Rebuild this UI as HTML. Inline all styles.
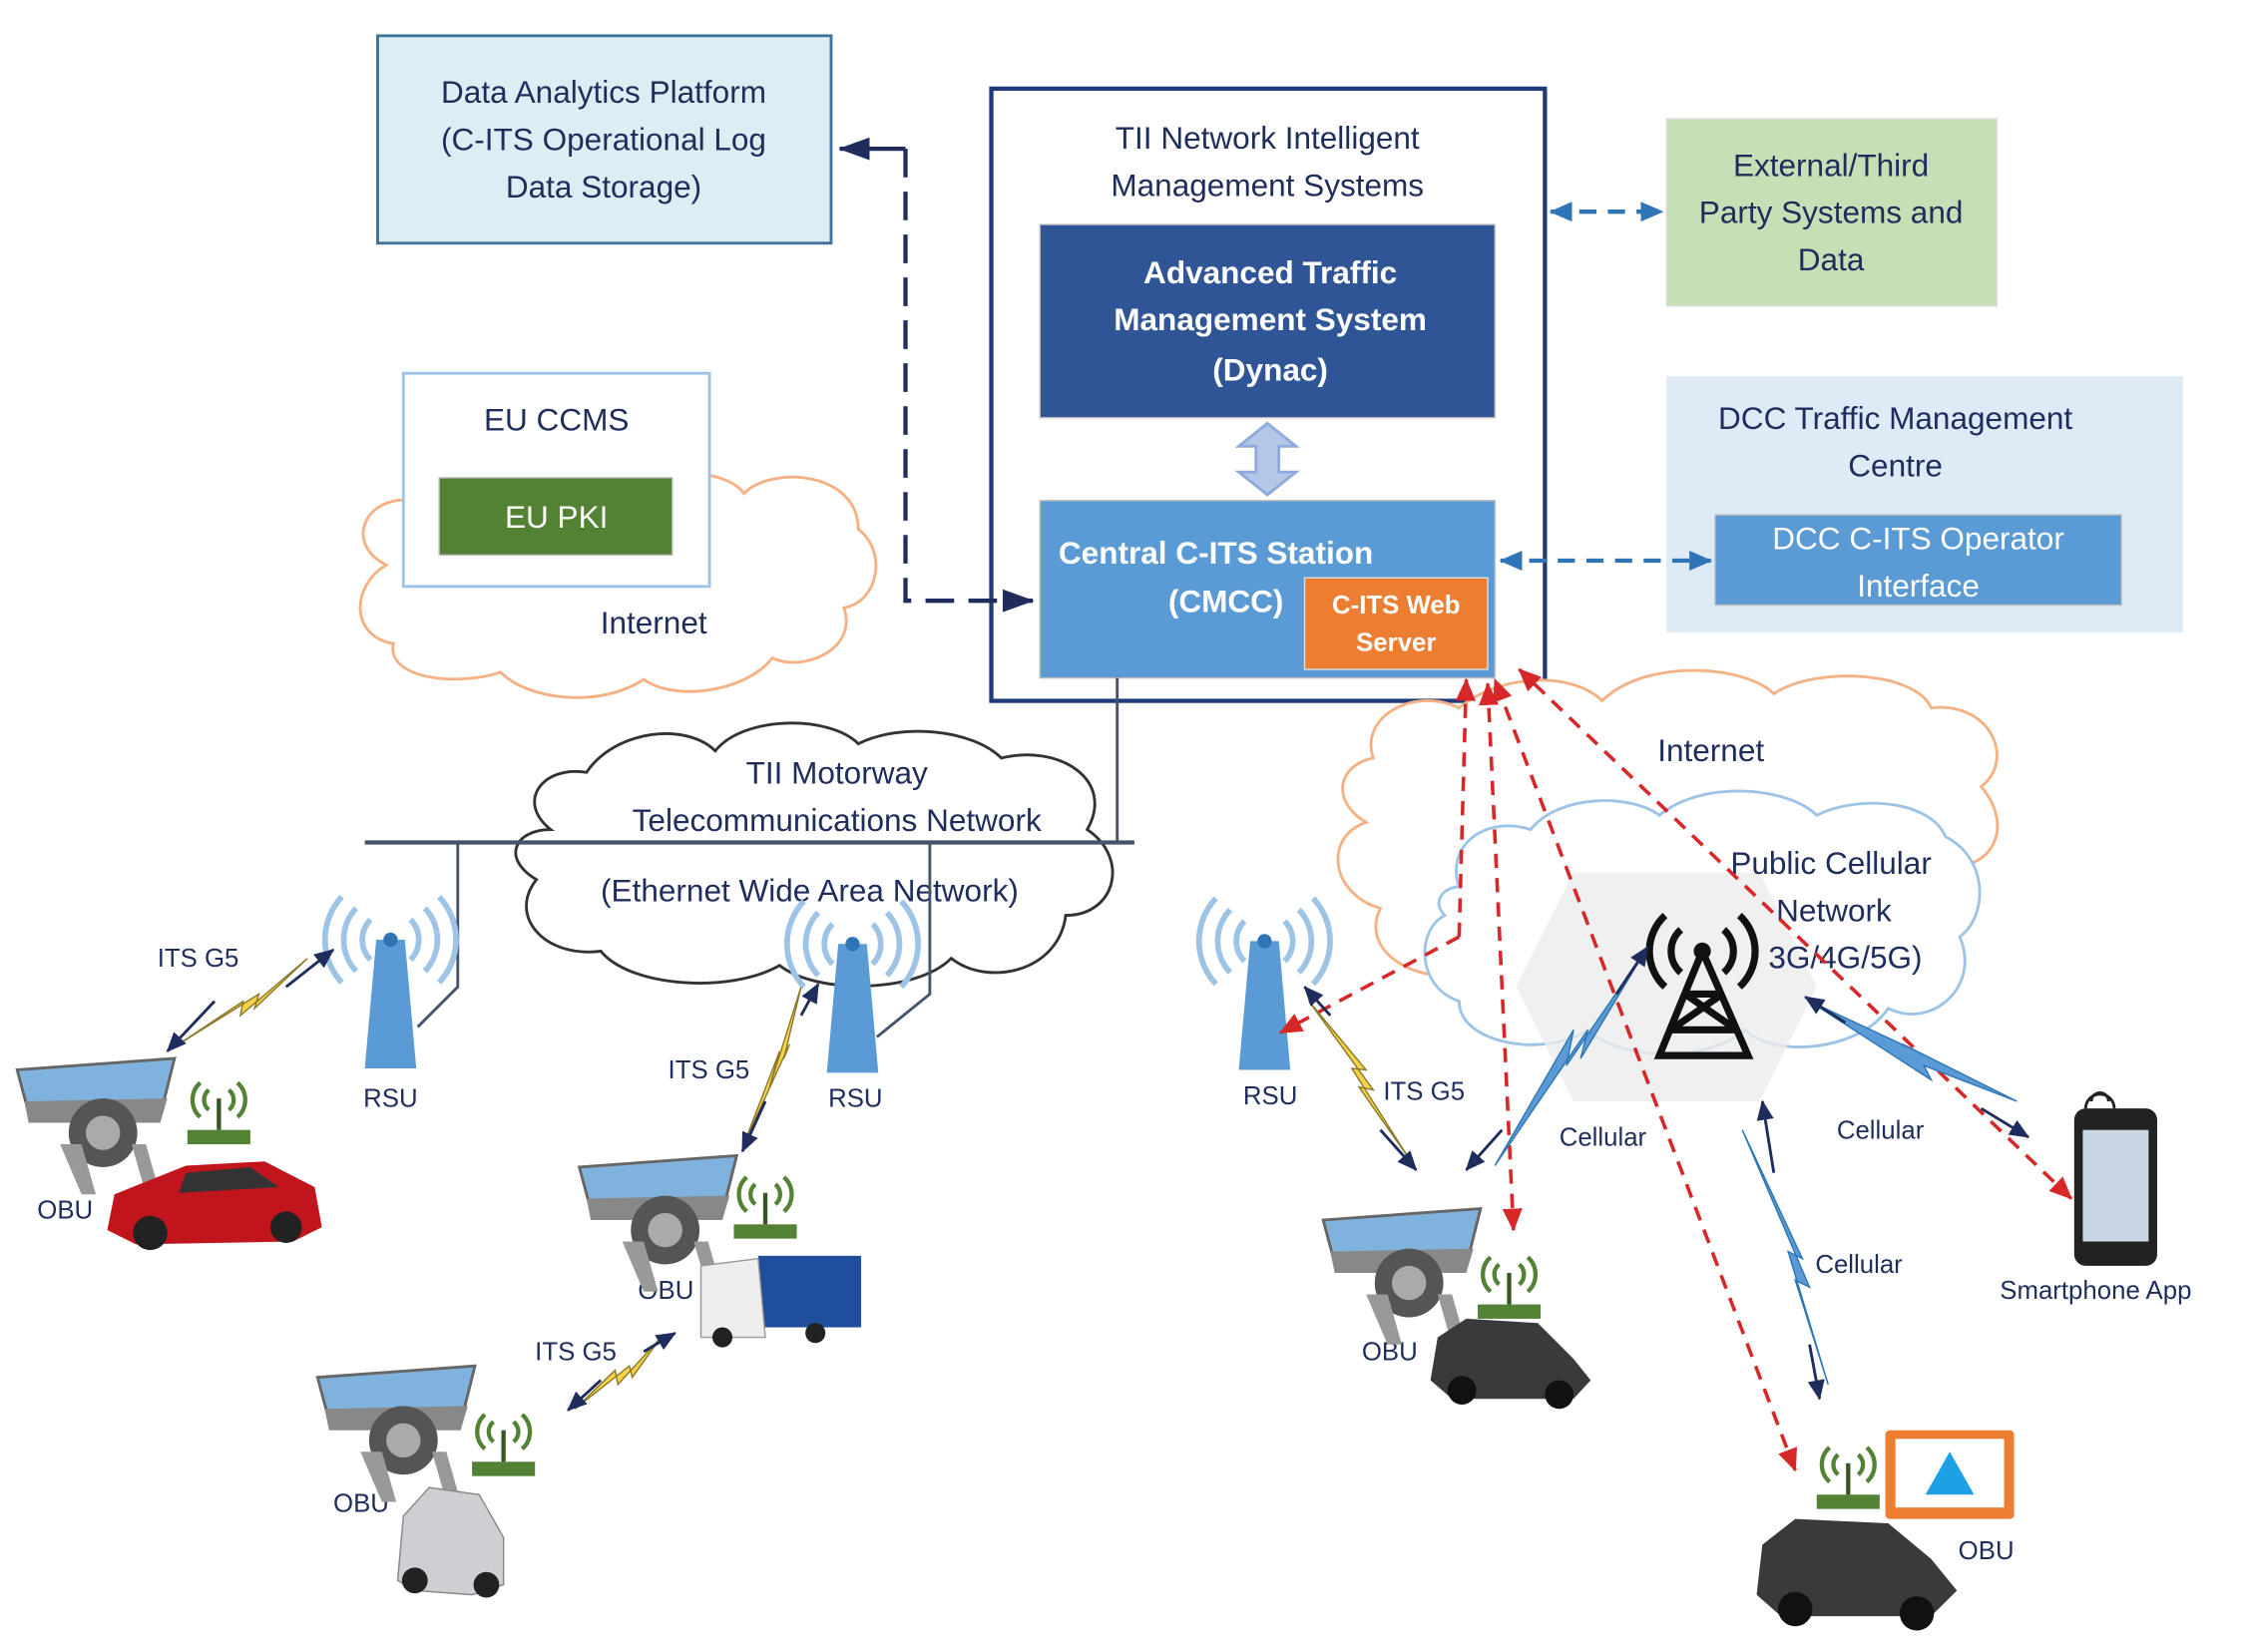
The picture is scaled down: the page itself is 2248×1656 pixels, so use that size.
<!DOCTYPE html>
<html><head><meta charset="utf-8"><style>
html,body{margin:0;padding:0;background:#fff;}
svg{display:block;}
text{font-family:"Liberation Sans",sans-serif;}
</style></head><body>
<svg width="2248" height="1656" viewBox="0 0 1568 1155" preserveAspectRatio="none" xmlns="http://www.w3.org/2000/svg">
<defs>
<marker id="ab" markerWidth="16" markerHeight="14" refX="15" refY="7" orient="auto-start-reverse" markerUnits="userSpaceOnUse"><path d="M0,0 L16,7 L0,14z" fill="#2e75b6"/></marker>
<marker id="ad" markerWidth="22" markerHeight="16" refX="21" refY="8" orient="auto" markerUnits="userSpaceOnUse"><path d="M0,0 L22,8 L0,16z" fill="#1f2d5c"/></marker>
<marker id="ar" markerWidth="16" markerHeight="14" refX="15" refY="7" orient="auto-start-reverse" markerUnits="userSpaceOnUse"><path d="M0,0 L16,7 L0,14z" fill="#d62828"/></marker>
<marker id="ak" markerWidth="14" markerHeight="12" refX="13" refY="6" orient="auto" markerUnits="userSpaceOnUse"><path d="M0,0 L14,6 L0,12z" fill="#1f2d5c"/></marker>
<g id="rsu">
<path d="M-10,0 L10,0 L18,90 L-18,90z" fill="#5b9bd5"/>
<circle cx="0" cy="0" r="5" fill="#2e75b6"/>
<path d="M-14,-14 A20,20 0 0 0 -14,14 M14,-14 A20,20 0 0 1 14,14 M-24,-22 A32,32 0 0 0 -24,22 M24,-22 A32,32 0 0 1 24,22 M-34,-30 A44,44 0 0 0 -34,30 M34,-30 A44,44 0 0 1 34,30" fill="none" stroke="#9dc3e6" stroke-width="4"/>
</g>
<g id="dash">
<path d="M0,8 L110,0 L100,40 L8,38z" fill="#7fb3de" stroke="#666" stroke-width="2"/>
<path d="M5,30 L105,28 L100,45 L8,45z" fill="#888"/>
<circle cx="60" cy="52" r="24" fill="#555"/><circle cx="60" cy="52" r="12" fill="#aaa"/>
<path d="M30,60 L45,95 L55,95 L45,60z M80,60 L90,95 L100,95 L90,60z" fill="#999"/>
</g>
<g id="wifi">
<rect x="-22" y="22" width="44" height="10" fill="#548235"/>
<line x1="0" y1="0" x2="0" y2="22" stroke="#375623" stroke-width="3"/>
<path d="M-7,-6 A9,9 0 0 0 -7,8 M7,-6 A9,9 0 0 1 7,8 M-13,-11 A16,16 0 0 0 -13,13 M13,-11 A16,16 0 0 1 13,13" fill="none" stroke="#548235" stroke-width="3"/>
</g>
</defs>

<!-- EU CCMS cloud -->
<path d="M270,395 C240,380 255,345 290,350 C300,320 340,320 360,340 C380,320 420,320 440,340 C470,325 510,330 520,345 C540,325 600,330 600,370 C620,385 615,420 590,425 C600,455 560,470 540,460 C520,485 470,490 450,475 C420,495 370,490 350,470 C320,480 270,475 275,450 C245,445 245,410 270,395z" fill="#fff" stroke="#f4b183" stroke-width="2"/>
<rect x="282" y="261" width="214" height="149" fill="#fff" stroke="#9dc3e6" stroke-width="2"/>
<text x="389" y="301" font-size="22" text-anchor="middle" fill="#1f2d5c">EU CCMS</text>
<rect x="307" y="334" width="163" height="54" fill="#548235" stroke="#bbb"/>
<text x="389" y="369" font-size="22" text-anchor="middle" fill="#fff">EU PKI</text>
<text x="457" y="443" font-size="22" text-anchor="middle" fill="#1f2d5c">Internet</text>

<!-- Data analytics -->
<rect x="264" y="25" width="317" height="145" fill="#dbeef4" stroke="#41719c" stroke-width="2"/>
<text x="422" y="72" font-size="22" text-anchor="middle" fill="#1f2d5c">Data Analytics Platform</text>
<text x="422" y="105" font-size="22" text-anchor="middle" fill="#1f2d5c">(C-ITS Operational Log</text>
<text x="422" y="138" font-size="22" text-anchor="middle" fill="#1f2d5c">Data Storage)</text>

<!-- TII box -->
<rect x="693" y="62" width="387" height="428" fill="#fff" stroke="#1f3a7a" stroke-width="3"/>
<text x="886" y="104" font-size="22" text-anchor="middle" fill="#1f2d5c">TII Network Intelligent</text>
<text x="886" y="137" font-size="22" text-anchor="middle" fill="#1f2d5c">Management Systems</text>
<rect x="727" y="157" width="318" height="135" fill="#2f5597" stroke="#bbb"/>
<text x="888" y="198" font-size="22" font-weight="bold" text-anchor="middle" fill="#fff">Advanced Traffic</text>
<text x="888" y="231" font-size="22" font-weight="bold" text-anchor="middle" fill="#fff">Management System</text>
<text x="888" y="266" font-size="22" font-weight="bold" text-anchor="middle" fill="#fff">(Dynac)</text>
<path d="M886,296 L906,312 L894,312 L894,330 L906,330 L886,346 L866,330 L878,330 L878,312 L866,312z" fill="#b4c7e7" stroke="#8faadc" stroke-width="2"/>
<rect x="727" y="350" width="318" height="124" fill="#5b9bd5" stroke="#bbb"/>
<text x="740" y="394" font-size="22" font-weight="bold" fill="#fff">Central C-ITS Station</text>
<text x="857" y="428" font-size="22" font-weight="bold" text-anchor="middle" fill="#fff">(CMCC)</text>
<rect x="912" y="404" width="128" height="64" fill="#ed7d31" stroke="#ddd"/>
<text x="976" y="429" font-size="18" font-weight="bold" text-anchor="middle" fill="#fff">C-ITS Web</text>
<text x="976" y="455" font-size="18" font-weight="bold" text-anchor="middle" fill="#fff">Server</text>

<!-- navy dashed -->
<path d="M633,104 L633,420 L722,420" fill="none" stroke="#1f2d5c" stroke-width="3" stroke-dasharray="20,10" marker-end="url(#ad)"/>
<path d="M633,104 L587,104" fill="none" stroke="#1f2d5c" stroke-width="3" marker-end="url(#ad)"/>

<!-- External -->
<rect x="1165" y="83" width="231" height="131" fill="#c5e0b4" stroke="#ddd"/>
<text x="1280" y="123" font-size="22" text-anchor="middle" fill="#1f2d5c">External/Third</text>
<text x="1280" y="156" font-size="22" text-anchor="middle" fill="#1f2d5c">Party Systems and</text>
<text x="1280" y="189" font-size="22" text-anchor="middle" fill="#1f2d5c">Data</text>
<line x1="1084" y1="148" x2="1162" y2="148" stroke="#2e75b6" stroke-width="3" stroke-dasharray="12,8" marker-start="url(#ab)" marker-end="url(#ab)"/>

<!-- DCC -->
<rect x="1165" y="263" width="361" height="179" fill="#deebf7"/>
<text x="1325" y="300" font-size="22" text-anchor="middle" fill="#1f2d5c">DCC Traffic Management</text>
<text x="1325" y="333" font-size="22" text-anchor="middle" fill="#1f2d5c">Centre</text>
<rect x="1199" y="360" width="284" height="63" fill="#5b9bd5" stroke="#bbb"/>
<text x="1341" y="384" font-size="22" text-anchor="middle" fill="#fff">DCC C-ITS Operator</text>
<text x="1341" y="417" font-size="22" text-anchor="middle" fill="#fff">Interface</text>
<line x1="1049" y1="392" x2="1196" y2="392" stroke="#2e75b6" stroke-width="3" stroke-dasharray="12,8" marker-start="url(#ab)" marker-end="url(#ab)"/>

<!-- bus line -->
<line x1="781" y1="474" x2="781" y2="589" stroke="#44546a" stroke-width="2"/>
<!-- TII cloud -->
<path d="M385,580 C360,560 380,535 410,540 C430,510 480,505 500,525 C520,500 580,500 600,520 C630,505 680,510 700,530 C740,520 780,545 760,580 C790,600 780,640 745,640 C740,680 690,690 665,670 C640,695 570,695 545,675 C510,695 440,690 420,665 C380,670 355,640 375,615 C350,600 360,580 385,580z" fill="#fff" stroke="#333" stroke-width="2"/>
<line x1="255" y1="589" x2="793" y2="589" stroke="#44546a" stroke-width="3"/>
<text x="585" y="548" font-size="22" text-anchor="middle" fill="#1f2d5c">TII Motorway</text>
<text x="585" y="581" font-size="22" text-anchor="middle" fill="#1f2d5c">Telecommunications Network</text>
<text x="566" y="630" font-size="22" text-anchor="middle" fill="#1f2d5c">(Ethernet Wide Area Network)</text>
<path d="M320,589 L320,690 L292,718" fill="none" stroke="#44546a" stroke-width="2"/>
<path d="M650,589 L650,695 L613,725" fill="none" stroke="#44546a" stroke-width="2"/>

<!-- right internet cloud -->
<path d="M960,530 C950,500 990,480 1020,495 C1050,470 1100,470 1120,490 C1150,460 1220,465 1240,485 C1270,465 1340,470 1350,495 C1390,490 1410,530 1385,550 C1410,580 1390,610 1360,605 C1370,660 1320,690 1280,680 C1250,705 1180,705 1150,690 C1110,705 1050,700 1030,680 C990,690 950,665 965,635 C930,625 925,585 955,575 C930,560 935,535 960,530z" fill="#fff" stroke="#f4b183" stroke-width="2"/>
<text x="1196" y="532" font-size="22" text-anchor="middle" fill="#1f2d5c">Internet</text>
<path d="M1020,620 C1010,590 1040,570 1070,580 C1090,555 1140,555 1160,570 C1190,545 1250,550 1270,570 C1300,555 1350,560 1360,585 C1390,600 1390,640 1370,655 C1385,690 1350,720 1320,705 C1300,735 1240,740 1220,720 C1190,745 1130,740 1110,720 C1080,740 1020,730 1020,700 C990,690 990,650 1010,640 C1000,630 1010,620 1020,620z" fill="#fff" stroke="#9dc3e6" stroke-width="2"/>
<path d="M1100,610 L1230,610 L1270,690 L1230,770 L1100,770 L1060,690z" fill="#ececec" opacity="0.8"/>
<text x="1280" y="611" font-size="22" text-anchor="middle" fill="#1f2d5c">Public Cellular</text>
<text x="1282" y="644" font-size="22" text-anchor="middle" fill="#1f2d5c">Network</text>
<text x="1290" y="677" font-size="22" text-anchor="middle" fill="#1f2d5c">3G/4G/5G)</text>
<!-- tower -->
<g fill="none" stroke="#111" stroke-width="5">
<path d="M1190,665 L1160,738 L1222,738z M1178,695 L1204,695 M1168,720 L1214,720 M1178,695 L1214,720 M1204,695 L1168,720"/>
<path d="M1175,650 A20,20 0 0 0 1175,680 M1205,650 A20,20 0 0 1 1205,680 M1164,640 A34,34 0 0 0 1164,690 M1216,640 A34,34 0 0 1 1216,690"/>
</g>
<circle cx="1190" cy="665" r="6" fill="#111"/>

<!-- RSUs -->
<use href="#rsu" x="273" y="657"/>
<use href="#rsu" x="596" y="660"/>
<use href="#rsu" x="884" y="658"/>
<text x="273" y="774" font-size="18" text-anchor="middle" fill="#1f2d5c">RSU</text>
<text x="598" y="774" font-size="18" text-anchor="middle" fill="#1f2d5c">RSU</text>
<text x="888" y="772" font-size="18" text-anchor="middle" fill="#1f2d5c">RSU</text>

<!-- red dashed -->
<g stroke="#d62828" stroke-width="2.5" stroke-dasharray="10,7" fill="none">
<path d="M1020,655 L1025,475" marker-end="url(#ar)"/>
<path d="M1020,655 L895,722" marker-end="url(#ar)"/>
<path d="M1040,478 L1058,860" marker-start="url(#ar)" marker-end="url(#ar)"/>
<path d="M1255,1028 L1045,475" marker-start="url(#ar)" marker-end="url(#ar)"/>
<path d="M1448,838 L1062,468" marker-start="url(#ar)" marker-end="url(#ar)"/>
</g>

<!-- lightning bolts -->
<g fill="#f7d24a" stroke="#8a7a2a" stroke-width="1">
<path d="M125,730 L170,700 L168,710 L215,670 L178,705 L181,695z"/>
<path d="M520,800 L545,735 L538,760 L560,690 L548,740 L552,730z"/>
<path d="M402,985 L430,958 L432,968 L462,935 L442,963 L440,955z"/>
<path d="M985,810 L950,760 L960,762 L915,700 L955,748 L945,747z"/>
</g>
<g stroke="#1f2d5c" stroke-width="2" fill="none">
<line x1="150" y1="700" x2="117" y2="735" marker-end="url(#ak)"/>
<line x1="200" y1="690" x2="233" y2="664" marker-end="url(#ak)"/>
<line x1="535" y1="770" x2="519" y2="805" marker-end="url(#ak)"/>
<line x1="560" y1="710" x2="572" y2="688" marker-end="url(#ak)"/>
<line x1="420" y1="965" x2="397" y2="986" marker-end="url(#ak)"/>
<line x1="450" y1="945" x2="472" y2="932" marker-end="url(#ak)"/>
<line x1="930" y1="710" x2="912" y2="690" marker-end="url(#ak)"/>
<line x1="965" y1="790" x2="990" y2="818" marker-end="url(#ak)"/>
</g>
<!-- cellular bolts blue -->
<g fill="#5b9bd5" stroke="#2e75b6" stroke-width="1">
<path d="M1045,815 L1100,720 L1095,745 L1150,665 L1105,740 L1110,720z"/>
<path d="M1278,968 L1255,895 L1265,900 L1218,790 L1260,880 L1250,875z"/>
<path d="M1410,770 L1345,745 L1350,755 L1265,700 L1340,735 L1330,730z"/>
</g>
<g stroke="#1f2d5c" stroke-width="2" fill="none">
<line x1="1050" y1="790" x2="1025" y2="818" marker-end="url(#ak)"/>
<line x1="1130" y1="695" x2="1152" y2="662" marker-end="url(#ak)"/>
<line x1="1240" y1="820" x2="1232" y2="770" marker-end="url(#ak)"/>
<line x1="1265" y1="940" x2="1272" y2="978" marker-end="url(#ak)"/>
<line x1="1290" y1="715" x2="1262" y2="697" marker-end="url(#ak)"/>
<line x1="1385" y1="775" x2="1418" y2="795" marker-end="url(#ak)"/>
</g>

<!-- labels -->
<g font-size="18" fill="#1f2d5c">
<text x="110" y="676">ITS G5</text>
<text x="467" y="754">ITS G5</text>
<text x="374" y="951">ITS G5</text>
<text x="967" y="769">ITS G5</text>
<text x="1090" y="801">Cellular</text>
<text x="1284" y="796">Cellular</text>
<text x="1269" y="890">Cellular</text>
<text x="1398" y="908">Smartphone App</text>
<text x="26" y="852">OBU</text>
<text x="446" y="908">OBU</text>
<text x="233" y="1057">OBU</text>
<text x="952" y="951">OBU</text>
<text x="1369" y="1090">OBU</text>
</g>

<!-- vehicles (approximations) -->
<use href="#dash" x="12" y="740"/>
<use href="#wifi" x="153" y="768"/>
<path d="M75,860 L80,835 L130,815 L185,812 L220,830 L225,858 L205,868 L95,870z" fill="#c0151d"/>
<circle cx="105" cy="862" r="12" fill="#222"/><circle cx="200" cy="858" r="11" fill="#222"/>
<path d="M130,820 L175,816 L195,830 L125,834z" fill="#333"/>

<use href="#dash" x="405" y="808"/>
<use href="#wifi" x="535" y="834"/>
<rect x="530" y="878" width="72" height="50" fill="#1f4e9c"/>
<path d="M490,885 L530,880 L535,935 L490,935z" fill="#eee" stroke="#999"/>
<circle cx="505" cy="935" r="7" fill="#222"/><circle cx="570" cy="932" r="7" fill="#222"/>

<use href="#dash" x="222" y="955"/>
<use href="#wifi" x="352" y="1000"/>
<path d="M278,1105 L282,1060 L300,1040 L335,1045 L352,1075 L352,1108 L330,1115 L290,1112z" fill="#cfcfd3" stroke="#888"/>
<circle cx="290" cy="1105" r="9" fill="#222"/><circle cx="340" cy="1108" r="9" fill="#222"/>

<use href="#dash" x="925" y="845"/>
<use href="#wifi" x="1055" y="890"/>
<path d="M1000,965 L1005,935 L1025,922 L1075,925 L1100,950 L1112,965 L1100,978 L1015,978z" fill="#3a3a3a"/>
<circle cx="1022" cy="972" r="10" fill="#111"/><circle cx="1090" cy="975" r="10" fill="#111"/>

<use href="#wifi" x="1292" y="1023"/>
<rect x="1318" y="1000" width="90" height="62" fill="#ed7d31" rx="3"/>
<rect x="1325" y="1006" width="76" height="48" fill="#fff"/>
<path d="M1363,1015 L1380,1045 L1346,1045z" fill="#1ca1e5"/>
<path d="M1228,1115 L1232,1080 L1255,1062 L1320,1065 L1350,1090 L1368,1112 L1350,1130 L1245,1130z" fill="#3a3a3a"/>
<circle cx="1255" cy="1125" r="12" fill="#111"/><circle cx="1340" cy="1128" r="12" fill="#111"/>

<!-- smartphone -->
<rect x="1450" y="775" width="58" height="110" rx="8" fill="#222"/>
<rect x="1456" y="790" width="46" height="78" fill="#c9d6e3"/>
<path d="M1458,775 A10,10 0 0 1 1478,775 M1462,770 A6,6 0 0 1 1474,770" fill="none" stroke="#222" stroke-width="2"/>
</svg>
</body></html>
